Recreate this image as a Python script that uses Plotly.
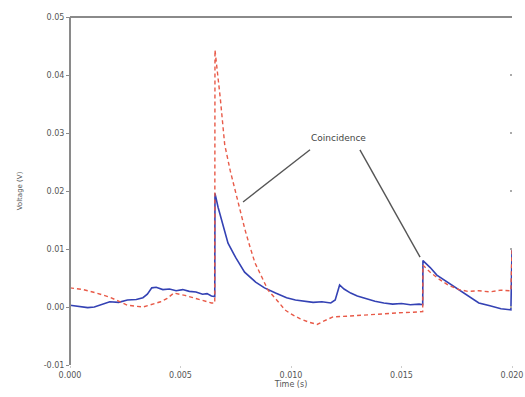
import plotly.graph_objects as go

# Blue (solid) trace
blue_t = [0.0000, 0.0004, 0.0008, 0.0011, 0.0014, 0.0018, 0.0022, 0.0026, 0.0030, 0.0033,
          0.0035, 0.0037, 0.0039, 0.0042, 0.0045, 0.0048, 0.0051, 0.0054, 0.0057, 0.0060,
          0.0062, 0.0064, 0.00655, 0.00656, 0.0067, 0.0069, 0.00715, 0.0075, 0.0079, 0.0084,
          0.0088, 0.0093, 0.0098, 0.0102, 0.0106, 0.0110, 0.0114, 0.0118, 0.0120, 0.0122,
          0.0124, 0.0127, 0.0130, 0.0134, 0.0138, 0.0142, 0.0146, 0.0150, 0.0154, 0.0158,
          0.01596, 0.01597, 0.0163, 0.0166, 0.0170, 0.0173, 0.0177, 0.0182, 0.0185, 0.0190,
          0.0195, 0.01995, 0.0200]
blue_v = [0.0003, 0.0001, -0.0001, 0.0000, 0.0004, 0.0009, 0.0008, 0.0012, 0.0013, 0.0016,
          0.0022, 0.0033, 0.0034, 0.0030, 0.0031, 0.0028, 0.0030, 0.0027, 0.0026, 0.0022,
          0.0023, 0.0019, 0.0018, 0.0196, 0.0172, 0.0143, 0.0110, 0.0085, 0.0060, 0.0043,
          0.0033, 0.0024, 0.0016, 0.0012, 0.0010, 0.0008, 0.0009, 0.0007, 0.0012, 0.0038,
          0.0031, 0.0024, 0.0019, 0.0014, 0.0010, 0.0007, 0.0005, 0.0006, 0.0004, 0.0005,
          0.0004, 0.0080, 0.0068, 0.0055, 0.0045, 0.0036, 0.0026, 0.0015, 0.0007, 0.0002,
          -0.0003, -0.0005, 0.0098]

# Red (dashed) trace
red_t = [0.0000, 0.0006, 0.0012, 0.0018, 0.0022, 0.0026, 0.0033, 0.0037, 0.0041, 0.0044,
         0.0047, 0.0052, 0.0056, 0.0060, 0.0064, 0.00655, 0.00656, 0.0068, 0.0070, 0.00725,
         0.00747, 0.0077, 0.00792, 0.00815, 0.00837, 0.0087, 0.00896, 0.0094, 0.00973, 0.0100,
         0.0104, 0.0108, 0.01118, 0.0115, 0.0119, 0.0125, 0.0132, 0.0140, 0.0149, 0.0155,
         0.01596, 0.01597, 0.0163, 0.0167, 0.0171, 0.0176, 0.0180, 0.0185, 0.0190, 0.0195,
         0.01995, 0.0200]
red_v = [0.0033, 0.0030, 0.0024, 0.0017, 0.0010, 0.0003, 0.0000, 0.0004, 0.0009, 0.0015,
         0.0024, 0.0020, 0.0016, 0.0012, 0.0007, 0.0007, 0.0443, 0.0360, 0.0280, 0.0235,
         0.0200, 0.0165, 0.0133, 0.0103, 0.0076, 0.0050, 0.0029, 0.0010, -0.0005, -0.0012,
         -0.0020, -0.0026, -0.0030, -0.0024, -0.0017, -0.0016, -0.0014, -0.0012, -0.0010, -0.0009,
         -0.0008, 0.0072, 0.0060, 0.0048, 0.0038, 0.0030, 0.0027, 0.0028, 0.0026, 0.0029,
         0.0028, 0.0100]

x_ticks = [0.0, 0.005, 0.010, 0.015, 0.020]
x_tick_labels = ["0.000", "0.005", "0.010", "0.015", "0.020"]
y_ticks = [-0.01, 0.0, 0.01, 0.02, 0.03, 0.04, 0.05]
y_tick_labels = ["-0.01", "0.00", "0.01", "0.02", "0.03", "0.04", "0.05"]

annot_text = "Coincidence"
annot_pos = (0.01213, 0.0291)
leader_starts = [(0.01086, 0.0271), (0.01312, 0.0271)]
leader_ends = [(0.00783, 0.0181), (0.01584, 0.0086)]

AX = "#8a8a8a"

fig = go.Figure()
fig.add_trace(go.Scatter(x=blue_t, y=blue_v, mode="lines",
                         line=dict(color="#3442b4", width=1.6), showlegend=False))
fig.add_trace(go.Scatter(x=red_t, y=red_v, mode="lines",
                         line=dict(color="#e85a48", width=1.4, dash="4px,3px"), showlegend=False))
# invisible trace to carry the right-hand mirror ticks
fig.add_trace(go.Scatter(x=[None], y=[None], yaxis="y2", showlegend=False, hoverinfo="skip"))

fig.add_annotation(x=annot_pos[0], y=annot_pos[1], text=annot_text, showarrow=False,
                   font=dict(family="DejaVu Sans", size=9, color="#444"))
for (sx, sy), (ex, ey) in zip(leader_starts, leader_ends):
    fig.add_shape(type="line", x0=sx, y0=sy, x1=ex, y1=ey,
                  line=dict(color="#555", width=1.4))

# frame: left and top lines only
fig.add_shape(type="line", xref="paper", yref="paper", x0=0, y0=0, x1=0, y1=1,
              line=dict(color=AX, width=2))
fig.add_shape(type="line", xref="paper", yref="paper", x0=0, y0=1, x1=1, y1=1,
              line=dict(color=AX, width=2))

fig.update_layout(
    width=525, height=397,
    margin=dict(l=70, r=13, t=17, b=32),
    paper_bgcolor="white", plot_bgcolor="white",
    font=dict(family="DejaVu Sans", size=8, color="#555"),
    xaxis=dict(range=[0, 0.02], tickvals=x_ticks, ticktext=x_tick_labels,
               showgrid=False, zeroline=False, showline=False, automargin=False,
               ticks="outside", ticklen=2, tickcolor="#ccc", tickfont=dict(size=8),
               title=dict(text="Time (s)", font=dict(size=8), standoff=1)),
    yaxis=dict(range=[-0.01, 0.05], tickvals=y_ticks, ticktext=y_tick_labels,
               showgrid=False, zeroline=False, showline=False, automargin=False,
               ticks="outside", ticklen=3, tickcolor=AX, tickfont=dict(size=8),
               title=dict(text="Voltage (V)", font=dict(size=7), standoff=20)),
    yaxis2=dict(range=[-0.01, 0.05], tickvals=y_ticks, overlaying="y", side="right",
                showgrid=False, zeroline=False, showline=False, showticklabels=False,
                ticks="inside", ticklen=2, tickwidth=2, tickcolor="#aaa", automargin=False),
)

fig.write_html("out.html", config={"displayModeBar": False},
               post_script="document.body.style.margin='0px';document.body.style.overflow='hidden';")
